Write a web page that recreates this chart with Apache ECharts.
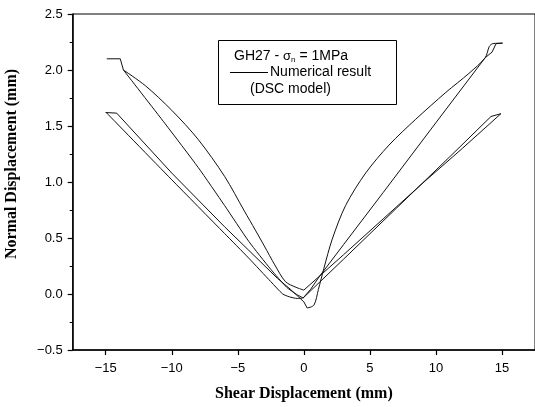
<!DOCTYPE html>
<html>
<head>
<meta charset="utf-8">
<script src="https://cdn.jsdelivr.net/npm/echarts@6/dist/echarts.min.js"></script>
<style>
html,body{margin:0;padding:0;background:#fff;}
#chart{width:535px;height:407px;}
</style>
</head>
<body>
<div id="chart"></div>
<script>
// ---- data: branches of the cyclic shear response, [shear (mm), normal (mm)] ----
var bigRightLoading = [[0.25,-0.125],[0.76,-0.10],[1.1,0.04],[1.52,0.23],[2.15,0.49],[3.16,0.79],[4.68,1.08],[6.45,1.33],[8.47,1.56],[10.75,1.80],[12.5,1.97],[13.73,2.11],[14.04,2.21],[14.3,2.235],[15.05,2.24]];
var bigRightUnloading = [[15.05,2.24],[14.55,2.235],[14.25,2.16],[13.73,2.11],[10,1.53],[6,0.905],[3,0.44],[1.2,0.16],[0.5,0.04],[-0.05,-0.035]];
var smallRightLoading = [[0,0.035],[3,0.35],[6,0.67],[9,0.99],[12,1.30],[14.92,1.61]];
var smallRightUnloading = [[14.92,1.61],[14.17,1.585],[11,1.22],[7,0.765],[3,0.31],[-0.05,-0.035]];
var bigLeftCurve = [[0,0.035],[-0.6,0.06],[-1.39,0.11],[-2.2,0.26],[-3.0,0.43],[-3.67,0.57],[-4.5,0.74],[-6.0,1.05],[-8.0,1.38],[-10.0,1.64],[-12.0,1.86],[-13.66,2.0]];
var bigLeftTop = [[-13.66,2.0],[-13.9,2.1],[-14.92,2.1]];
var bigLeftStraight = [[-13.66,2.0],[-10.5,1.52],[-8,1.13],[-6,0.79],[-4.17,0.47],[-2.5,0.22],[-1.3,0.06],[-0.6,0.0],[-0.05,-0.035]];
var smallLeftLoading = [[-15.0,1.625],[-10,1.02],[-6,0.54],[-4.17,0.32],[-2.5,0.11],[-1.6,0.0],[-1.1,-0.025],[-0.5,-0.04],[-0.05,-0.035]];
var smallLeftUnloading = [[-15.0,1.62],[-14.17,1.615],[-10,1.08],[-6,0.60],[-4.17,0.39],[-2,0.14],[-1,0.04],[0,-0.07],[0.25,-0.125]];

var xTicks = {min:-17.5, max:17.5, interval:5};
var yTicks = {min:-0.5, max:2.5, interval:0.5};

var legendTitle = 'GH27 - ';
var legendLabel1 = 'Numerical result';
var legendLabel2 = '(DSC model)';
var xTitle = 'Shear Displacement (mm)';
var yTitle = 'Normal Displacement (mm)';

var branches = [
  {d:bigRightLoading, smooth:0.3},
  {d:bigRightUnloading, smooth:false},
  {d:smallRightLoading, smooth:false},
  {d:smallRightUnloading, smooth:false},
  {d:bigLeftCurve, smooth:0.3},
  {d:bigLeftTop, smooth:false},
  {d:bigLeftStraight, smooth:0.2},
  {d:smallLeftLoading, smooth:0.2},
  {d:smallLeftUnloading, smooth:false}
];

var chart = echarts.init(document.getElementById('chart'), null, {renderer:'canvas'});
function fmt(v, dec){ var s = dec ? v.toFixed(1) : String(v); return s.replace('-', '\u2212'); }
var axisFont = {fontFamily:'Liberation Sans, Arial, sans-serif', fontSize:13, color:'#000'};

var option = {
  animation:false,
  backgroundColor:'#fff',
  grid:{left:72.7, right:0, top:14, bottom:53.7, show:true, borderColor:'#000', borderWidth:1},
  xAxis:{
    type:'value', min:xTicks.min, max:xTicks.max, interval:xTicks.interval,
    axisLine:{show:true, onZero:false, lineStyle:{color:'#000', width:1.5}},
    axisTick:{show:true, inside:false, length:5, lineStyle:{color:'#000', width:1.2},
      customValues:[-15,-10,-5,0,5,10,15]},
    minorTick:{show:true, splitNumber:2, length:3, lineStyle:{color:'#000'}},
    splitLine:{show:false},
    axisLabel:Object.assign({margin:12, formatter:function(v){return fmt(v,false);},
      customValues:[-15,-10,-5,0,5,10,15]}, axisFont),
    name:xTitle, nameLocation:'middle', nameGap:36,
    nameTextStyle:{fontFamily:'Liberation Serif, Times New Roman, serif', fontWeight:'bold', fontSize:16, color:'#000'}
  },
  yAxis:{
    type:'value', min:yTicks.min, max:yTicks.max, interval:yTicks.interval,
    axisLine:{show:true, onZero:false, lineStyle:{color:'#000', width:1.5}},
    axisTick:{show:true, inside:false, length:5, lineStyle:{color:'#000', width:1.2}},
    minorTick:{show:true, splitNumber:2, length:3, lineStyle:{color:'#000'}},
    splitLine:{show:false},
    axisLabel:Object.assign({margin:10, formatter:function(v){return fmt(v,true);}}, axisFont)
  },
  graphic:[
    {type:'text', x:12, y:164, rotation:Math.PI/2,
      style:{text:yTitle, x:0, y:0, textAlign:'center', textVerticalAlign:'middle',
        font:'bold 16px "Liberation Serif", "Times New Roman", serif', fill:'#000'}},
    {type:'rect', shape:{x:218.5, y:40.5, width:178, height:64},
      style:{fill:'#fff', stroke:'#000', lineWidth:1}, z:10},
    {type:'text', x:234, y:56, z:11,
      style:{rich:{
          t:{fontFamily:'Liberation Sans, Arial, sans-serif', fontSize:14, fill:'#000'},
          s:{fontFamily:'Liberation Sans, Arial, sans-serif', fontSize:13, fill:'#000'},
          sub:{fontFamily:'Liberation Sans, Arial, sans-serif', fontSize:8, fill:'#000', padding:[8,0,0,0]}
        },
        text:'{t|' + legendTitle + '}{s|σ}{sub|n}{t| = 1MPa}', textVerticalAlign:'middle'}},
    {type:'line', shape:{x1:230, y1:72.5, x2:268, y2:72.5}, style:{stroke:'#000', lineWidth:1}, z:11},
    {type:'text', x:270, y:72.5, z:11,
      style:{text:legendLabel1, textVerticalAlign:'middle', font:'14px "Liberation Sans", Arial, sans-serif', fill:'#000'}},
    {type:'text', x:250, y:89, z:11,
      style:{text:legendLabel2, textVerticalAlign:'middle', font:'14px "Liberation Sans", Arial, sans-serif', fill:'#000'}}
  ],
  series: branches.map(function(b){
    return {type:'line', data:b.d, showSymbol:false, symbol:'none', smooth:b.smooth,
      lineStyle:{color:'#111', width:1}, silent:true, z:2};
  })
};
chart.setOption(option);
</script>
</body>
</html>
